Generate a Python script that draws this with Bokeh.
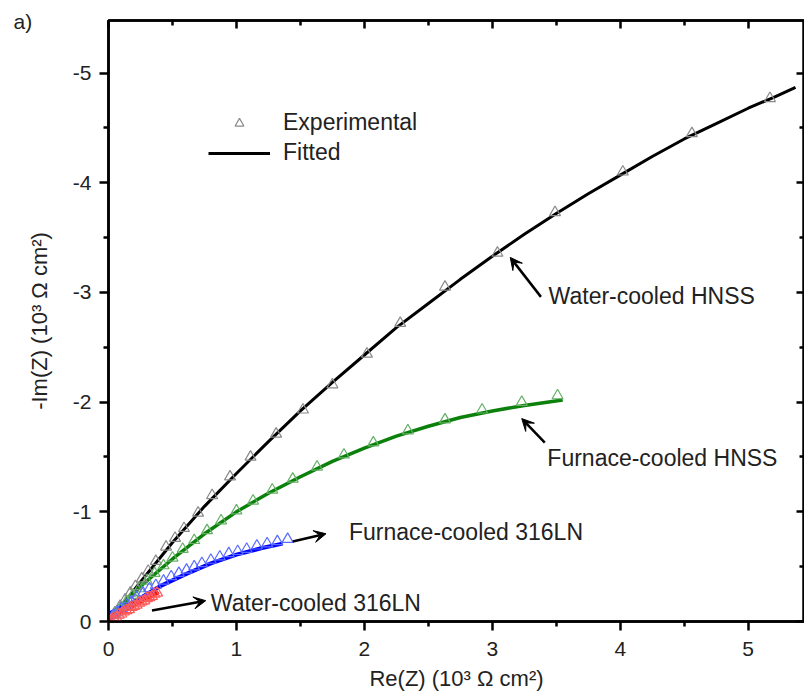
from bokeh.plotting import figure
from bokeh.models import (Range1d, FixedTicker, LinearAxis, Label, Arrow, VeeHead,
                          Legend, LegendItem)
from bokeh.embed import file_html
from bokeh.resources import INLINE

# ---------------- data (Re in 10^3 ohm cm2, Im in 10^3 ohm cm2, Im negative) ----------------
# Water-cooled HNSS
re_wc_hnss_exp = [0.05, 0.09, 0.13, 0.17, 0.21, 0.26, 0.31, 0.37, 0.45, 0.52, 0.59, 0.70, 0.81,
                  0.95, 1.11, 1.31, 1.52, 1.75, 2.02, 2.28, 2.63, 3.04, 3.49, 4.02, 4.56, 5.17]
im_wc_hnss_exp = [-0.08, -0.14, -0.20, -0.26, -0.32, -0.39, -0.46, -0.55, -0.68, -0.76, -0.85,
                  -0.99, -1.15, -1.32, -1.50, -1.71, -1.93, -2.16, -2.44, -2.72, -3.05, -3.36,
                  -3.73, -4.10, -4.45, -4.77]
re_wc_hnss_fit = [0.02, 0.1, 0.25, 0.5, 0.75, 1.0, 1.25, 1.5, 1.75, 2.0, 2.25, 2.5, 2.75, 3.0,
                  3.25, 3.5, 3.75, 4.0, 4.25, 4.5, 4.75, 5.0, 5.2, 5.37]
im_wc_hnss_fit = [-0.04, -0.14, -0.36, -0.72, -1.05, -1.35, -1.64, -1.92, -2.18, -2.43, -2.68,
                  -2.90, -3.12, -3.33, -3.53, -3.72, -3.90, -4.07, -4.24, -4.40, -4.54, -4.68,
                  -4.78, -4.87]

# Furnace-cooled HNSS
re_fc_hnss_exp = [0.05, 0.09, 0.14, 0.19, 0.24, 0.30, 0.36, 0.43, 0.50, 0.58, 0.67, 0.77, 0.88,
                  1.00, 1.13, 1.28, 1.44, 1.63, 1.84, 2.07, 2.34, 2.63, 2.92, 3.23, 3.51]
im_fc_hnss_exp = [-0.07, -0.12, -0.18, -0.24, -0.30, -0.37, -0.44, -0.51, -0.58, -0.66, -0.74,
                  -0.83, -0.92, -1.01, -1.10, -1.20, -1.30, -1.41, -1.52, -1.63, -1.74, -1.84,
                  -1.93, -2.00, -2.06]
re_fc_hnss_fit = [0.02, 0.25, 0.5, 0.75, 1.0, 1.25, 1.5, 1.75, 2.0, 2.25, 2.5, 2.75, 3.0, 3.25,
                  3.55]
im_fc_hnss_fit = [-0.05, -0.32, -0.57, -0.80, -1.00, -1.17, -1.32, -1.46, -1.58, -1.69, -1.78,
                  -1.86, -1.92, -1.97, -2.02]

# Furnace-cooled 316LN
re_fc_316_exp = [0.04, 0.07, 0.10, 0.14, 0.18, 0.22, 0.27, 0.32, 0.37, 0.43, 0.49, 0.55, 0.61,
                 0.67, 0.73, 0.80, 0.87, 0.94, 1.01, 1.08, 1.16, 1.24, 1.32, 1.40]
im_fc_316_exp = [-0.06, -0.09, -0.12, -0.15, -0.18, -0.22, -0.26, -0.30, -0.33, -0.37, -0.41,
                 -0.44, -0.47, -0.50, -0.53, -0.56, -0.59, -0.62, -0.64, -0.66, -0.69, -0.71,
                 -0.73, -0.75]
re_fc_316_fit = [0.0, 0.2, 0.4, 0.6, 0.8, 1.0, 1.2, 1.36]
im_fc_316_fit = [-0.07, -0.18, -0.32, -0.43, -0.53, -0.61, -0.67, -0.71]

# Water-cooled 316LN
re_wc_316_exp = [0.02, 0.04, 0.06, 0.08, 0.10, 0.12, 0.14, 0.16, 0.18, 0.20, 0.22, 0.24, 0.26,
                 0.28, 0.30, 0.32, 0.34, 0.36, 0.38]
im_wc_316_exp = [-0.01, -0.03, -0.04, -0.06, -0.07, -0.09, -0.10, -0.11, -0.13, -0.14, -0.15,
                 -0.17, -0.18, -0.19, -0.21, -0.22, -0.23, -0.25, -0.26]
re_wc_316_fit = [0.0, 0.05, 0.1, 0.15, 0.2, 0.25, 0.3, 0.35, 0.39]
im_wc_316_fit = [-0.02, -0.05, -0.08, -0.115, -0.15, -0.18, -0.21, -0.24, -0.27]

x_ticks = [0, 1, 2, 3, 4, 5]
x_minor = [0.5, 1.5, 2.5, 3.5, 4.5]
y_ticks = [0, -1, -2, -3, -4, -5]
y_minor = [-0.5, -1.5, -2.5, -3.5, -4.5]
y_tick_labels = ["0", "-1", "-2", "-3", "-4", "-5"]

FONT = "Liberation Sans"
TXT = "#222222"

p = figure(width=804, height=698, output_backend="svg", toolbar_location=None,
           x_range=Range1d(0, 5.44), y_range=Range1d(0, -5.48),
           min_border_left=108, min_border_right=0, min_border_top=20, min_border_bottom=77,
           x_axis_label="Re(Z) (10³ Ω cm²)", y_axis_label="-Im(Z) (10³ Ω cm²)")
p.grid.visible = False
p.outline_line_color = "black"
p.outline_line_width = 2.5
p.background_fill_color = "white"
p.border_fill_color = "white"

p.xaxis.ticker = FixedTicker(ticks=x_ticks, minor_ticks=x_minor)
p.yaxis.ticker = FixedTicker(ticks=y_ticks, minor_ticks=y_minor)
p.yaxis.major_label_overrides = {t: s for t, s in zip(y_ticks, y_tick_labels)}

for ax in (p.xaxis[0], p.yaxis[0]):
    ax.axis_line_width = 2.5
    ax.major_tick_line_width = 2.5
    ax.minor_tick_line_width = 2.5
    ax.major_tick_out = 9
    ax.major_tick_in = 0
    ax.minor_tick_out = 5
    ax.minor_tick_in = 0
    ax.major_label_text_font = FONT
    ax.major_label_text_font_size = "21px"
    ax.major_label_text_color = TXT
    ax.axis_label_text_font = FONT
    ax.axis_label_text_font_size = "22px"
    ax.axis_label_text_font_style = "normal"
    ax.axis_label_text_color = TXT
p.xaxis.major_label_standoff = 11
p.xaxis.axis_label_standoff = 7
p.yaxis.major_label_standoff = 8
p.yaxis.axis_label_standoff = 18

for loc in ("above", "right"):
    ax = LinearAxis(ticker=FixedTicker(ticks=x_ticks if loc == "above" else y_ticks,
                                       minor_ticks=x_minor if loc == "above" else y_minor),
                    major_label_text_font_size="1px", major_label_text_color=None,
                    major_label_standoff=0,
                    axis_line_width=2.5, major_tick_line_width=2.5, minor_tick_line_width=2.5,
                    major_tick_in=8, major_tick_out=0, minor_tick_in=5, minor_tick_out=0)
    p.add_layout(ax, loc)

# fitted lines
l_wc_hnss = p.line(re_wc_hnss_fit, im_wc_hnss_fit, line_color="black", line_width=3)
p.line(re_fc_hnss_fit, im_fc_hnss_fit, line_color="#0b800b", line_width=3.5)
p.line(re_fc_316_fit, im_fc_316_fit, line_color="#0000ff", line_width=4)
p.line(re_wc_316_fit, im_wc_316_fit, line_color="#ff1010", line_width=4.5)

# experimental markers
s_wc_hnss = p.scatter(re_wc_hnss_exp, im_wc_hnss_exp, marker="triangle", size=11,
                      fill_color=None, line_color="#8a8a8a", line_width=1.2)
p.scatter(re_fc_hnss_exp, im_fc_hnss_exp, marker="triangle", size=11,
          fill_color=None, line_color="#66b066", line_width=1.2)
p.scatter(re_fc_316_exp, im_fc_316_exp, marker="triangle", size=11,
          fill_color=None, line_color="#5a6cff", line_width=1.2)
p.scatter(re_wc_316_exp, im_wc_316_exp, marker="triangle", size=11,
          fill_color=None, line_color="#ff5a5a", line_width=1.2)

# legend
legend = Legend(items=[LegendItem(label="Experimental", renderers=[s_wc_hnss]),
                       LegendItem(label="Fitted", renderers=[l_wc_hnss])],
                location=(100, 455), padding=0, margin=0, spacing=3,
                glyph_width=62, glyph_height=22, label_standoff=13,
                label_text_font=FONT, label_text_font_size="23px",
                label_text_color=TXT, border_line_color=None,
                background_fill_alpha=0)
p.add_layout(legend, "center")

# annotations
labels = [
    ("Water-cooled HNSS", 3.44, -2.97),
    ("Furnace-cooled HNSS", 3.43, -1.49),
    ("Furnace-cooled 316LN", 1.88, -0.82),
    ("Water-cooled 316LN", 0.80, -0.17),
]
for txt, lx, ly in labels:
    p.add_layout(Label(x=lx, y=ly, text=txt, text_font=FONT, text_font_size="23px",
                       text_color=TXT, text_baseline="middle", text_align="left"))

arrows = [
    (3.38, -2.96, 3.14, -3.32),
    (3.41, -1.63, 3.23, -1.85),
    (1.44, -0.73, 1.70, -0.80),
    (0.34, -0.10, 0.76, -0.19),
]
for xs, ys, xe, ye in arrows:
    p.add_layout(Arrow(x_start=xs, y_start=ys, x_end=xe, y_end=ye, line_width=2.5,
                       line_color="black",
                       end=VeeHead(size=12, fill_color="black", line_color="black")))

# panel tag "a)" placed in the left side panel (outside the frame)
p.add_layout(Label(x=9, y=-5.47, x_units="screen", y_units="data", text="a)",
                   text_font=FONT, text_font_size="21px", text_color=TXT,
                   text_baseline="middle", text_align="left"), "left")

open("out.html", "w").write(file_html(p, INLINE))
